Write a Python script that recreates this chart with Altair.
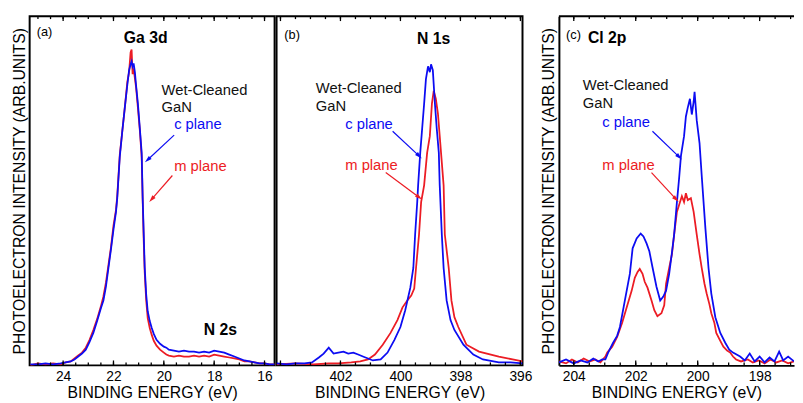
import altair as alt
import pandas as pd

FONT = "Liberation Sans"
BLUE = "#0c0cf2"
RED = "#ec1c24"

# ---------------- (a) Ga 3d ----------------
ga_E = [25.3, 25.0, 24.7, 24.4, 24.1, 23.9, 23.7, 23.55, 23.4, 23.25,
        23.1, 22.95, 22.8, 22.65, 22.5, 22.4, 22.3, 22.2, 22.1, 22.0,
        21.9, 21.85, 21.75, 21.65, 21.55, 21.45, 21.38, 21.32, 21.28, 21.24,
        21.2, 21.15, 21.1, 21.03, 20.95, 20.88, 20.84, 20.8, 20.76, 20.7,
        20.64, 20.56, 20.48, 20.4, 20.29, 20.15, 20.0, 19.9, 19.8, 19.6,
        19.4, 19.2, 19.0, 18.8, 18.6, 18.4, 18.2, 18.0, 17.8, 17.6,
        17.4, 17.2, 17.0, 16.8, 16.6, 16.4, 16.2, 16.0, 15.8, 15.6]
ga_c = [1, 1, 2, 1, 2, 3, 4, 6, 9, 12,
        16, 24, 33, 45, 58, 66, 80, 99, 118, 138,
        156, 170, 212, 238, 262, 285, 300, 306, 309, 304,
        307, 298, 284, 266, 240, 216, 170, 135, 100, 72,
        55, 45, 38, 32, 26, 22, 19, 18, 16, 15,
        14, 15, 14, 14, 13, 14, 13, 15, 14, 13,
        11, 9, 7, 5, 4, 3, 2, 2, 1, 1]
ga_m = [0, 2, 1, 2, 1, 3, 4, 7, 10, 13,
        18, 26, 36, 47, 60, 70, 84, 102, 120, 142,
        158, 172, 214, 238, 262, 288, 298, 318, 321, 296,
        302, 292, 282, 262, 238, 212, 168, 128, 95, 66,
        48, 38, 31, 25, 20, 16, 13, 11, 10, 9,
        10, 9, 9, 10, 9, 10, 9, 11, 10, 9,
        8, 7, 6, 4, 4, 3, 2, 2, 1, 1]

# ---------------- (b) N 1s ----------------
n_c_E = [404.13, 403.8, 403.5, 403.2, 402.95, 402.72, 402.56, 402.39, 402.23, 402.07,
         401.9, 401.74, 401.57, 401.41, 401.25, 401.08, 400.92, 400.66, 400.43, 400.2,
         400.0, 399.84, 399.67, 399.57, 399.51, 399.44, 399.41, 399.34, 399.21, 399.15,
         399.08, 399.02, 398.98, 398.92, 398.85, 398.79, 398.72, 398.69, 398.62, 398.56,
         398.46, 398.33, 398.2, 397.9, 397.57, 397.25, 396.72, 396.33, 395.93]
n_c = [2, 1, 2, 2, 3, 8, 12, 18, 12, 13,
       14, 12, 13, 11, 9, 7, 5, 6, 13, 26,
       39, 56, 79, 99, 133, 166, 183, 216, 266, 291,
       304, 298, 306, 300, 266, 241, 216, 183, 133, 99,
       66, 46, 36, 21, 11, 6, 3, 3, 2]
n_m_E = [404.13, 403.5, 402.9, 402.4, 402.07, 401.64, 401.34, 401.08, 400.85, 400.59,
         400.33, 400.1, 399.93, 399.77, 399.64, 399.54, 399.48, 399.38, 399.31, 399.21,
         399.11, 399.02, 398.95, 398.89, 398.82, 398.75, 398.69, 398.56, 398.52, 398.39,
         398.3, 398.2, 398.07, 397.8, 397.38, 396.72, 396.26, 395.93]
n_m = [1, 2, 1, 2, 2, 3, 4, 6, 11, 21,
       33, 46, 59, 66, 71, 78, 99, 133, 166, 183,
       216, 233, 266, 279, 271, 256, 233, 183, 133, 99,
       66, 49, 39, 21, 14, 9, 6, 4]

# ---------------- (c) Cl 2p ----------------
cl_c_E = [204.48, 204.25, 204.0, 203.78, 203.56, 203.37, 203.21, 203.08, 202.98, 202.89,
          202.73, 202.6, 202.51, 202.35, 202.19, 202.1, 201.97, 201.84, 201.75, 201.65,
          201.56, 201.46, 201.33, 201.21, 201.11, 201.02, 200.92, 200.83, 200.76, 200.67,
          200.6, 200.54, 200.44, 200.38, 200.32, 200.25, 200.19, 200.13, 200.1, 200.03,
          199.94, 199.87, 199.81, 199.75, 199.65, 199.56, 199.43, 199.27, 199.11, 198.98,
          198.86, 198.63, 198.48, 198.32, 198.16, 198.0, 197.84, 197.68, 197.52, 197.37,
          197.24, 197.08, 196.89]
cl_c = [3, 6, 2, 5, 3, 7, 4, 6, 6, 13,
        23, 30, 39, 66, 93, 119, 129, 134, 131, 124,
        116, 100, 80, 66, 70, 76, 93, 115, 133, 166,
        190, 213, 233, 253, 262, 271, 255, 268, 278, 249,
        226, 193, 166, 139, 99, 73, 49, 33, 23, 16,
        13, 9, 5, 12, 4, 9, 3, 8, 4, 14,
        5, 9, 4]
cl_m_E = [204.48, 204.25, 204.06, 203.87, 203.68, 203.49, 203.3, 203.14, 202.98, 202.92,
          202.76, 202.6, 202.44, 202.29, 202.13, 202.03, 201.94, 201.87, 201.78, 201.71,
          201.62, 201.49, 201.4, 201.3, 201.17, 201.08, 201.02, 200.92, 200.83, 200.76,
          200.67, 200.57, 200.51, 200.44, 200.38, 200.32, 200.22, 200.13, 200.03, 199.94,
          199.87, 199.78, 199.71, 199.62, 199.56, 199.46, 199.4, 199.27, 199.17, 199.05,
          198.95, 198.86, 198.76, 198.6, 198.38, 198.22, 198.03, 197.84, 197.65, 197.46,
          197.27, 197.08, 196.89]
cl_m = [4, 2, 6, 3, 7, 4, 6, 3, 9, 13,
        19, 29, 43, 59, 76, 89, 95, 98, 93, 85,
        79, 66, 56, 50, 53, 61, 83, 99, 113, 133,
        156, 166, 172, 166, 175, 168, 170, 156, 133, 113,
        99, 83, 73, 62, 53, 43, 33, 25, 19, 15,
        13, 9, 6, 4, 6, 3, 5, 2, 6, 3,
        5, 2, 4]

# axis ranges and tick values
a_dom = [15.6, 25.33]
b_dom = [395.93, 404.13]
c_dom = [196.89, 204.48]
a_labels = [16, 18, 20, 22, 24]
b_labels = [396, 398, 400, 402]
c_labels = [198, 200, 202, 204]
a_major = [16, 18, 20, 22, 24]
b_major = [396, 398, 400, 402, 404]
c_major = [198, 200, 202, 204]
a_minor = [16 + 0.5 * i for i in range(19)]
b_minor = [396 + 0.5 * i for i in range(17)]
c_minor = [197 + 0.5 * i for i in range(15)]

# annotations: text, energy, intensity
a_tag = ["(a)", 25.05, 339]
b_tag = ["(b)", 403.87, 336]
c_tag = ["(c)", 204.25, 336]
a_bold = [["Ga 3d", 20.72, 333], ["N 2s", 17.75, 36]]
b_bold = [["N 1s", 398.89, 332]]
c_bold = [["Cl 2p", 202.92, 333]]
a_desc = [["Wet-Cleaned", 20.09, 280], ["GaN", 20.09, 263]]
b_desc = [["Wet-Cleaned", 402.82, 282], ["GaN", 402.82, 264]]
c_desc = [["Wet-Cleaned", 203.71, 285], ["GaN", 203.71, 267]]
a_planes = [["c plane", 19.59, 245, BLUE], ["m plane", 19.59, 203, RED]]
b_planes = [["c plane", 401.84, 245, BLUE], ["m plane", 401.84, 204, RED]]
c_planes = [["c plane", 203.08, 247, BLUE], ["m plane", 203.08, 204, RED]]
# arrows: start E, start I, tip E, tip I, colour, head angle
a_arrows = [[19.59, 234, 20.64, 209, BLUE, 227], [19.66, 193, 20.48, 169, RED, 221]]
b_arrows = [[400.26, 238, 399.38, 213, BLUE, 133], [400.49, 196, 399.38, 171, RED, 126]]
c_arrows = [[201.46, 238, 200.6, 212, BLUE, 134], [201.49, 196, 200.7, 169, RED, 133]]

YTITLE = "PHOTOELECTRON INTENSITY (ARB.UNITS)"
YDOM = [0, 355]
H = 355
ARROW_HEAD = "M0,-1L0.55,0.9L-0.55,0.9Z"


def panel(E_m, I_m, E_c, I_c, dom, labels, major, minor, width, ytitle, border,
          tag, bold, desc, planes, arrows):
    xs = alt.Scale(domain=dom, reverse=True, nice=False, zero=False)
    ys = alt.Scale(domain=YDOM, nice=False, zero=False)
    lab_axis = alt.Axis(orient="bottom", values=labels, format="d", ticks=False,
                        domain=border, domainColor="black", domainWidth=2, grid=False,
                        labelFontSize=14, labelPadding=4, labelFlush=False, labelOverlap=False,
                        title="BINDING ENERGY (eV)", titleFontSize=16, titlePadding=2)
    if ytitle:
        yaxis = alt.Axis(title=YTITLE, labels=False, ticks=False, domain=border,
                         domainColor="black", domainWidth=2, grid=False,
                         titleFontSize=16, titlePadding=2)
        yk = {}
    else:
        yaxis = None
        yk = {"axis": None}

    def X(field):
        return alt.X(field, scale=xs)

    def Y(field):
        return alt.Y(field, scale=ys, **yk)

    df_m = pd.DataFrame({"E": E_m, "I": I_m})
    df_c = pd.DataFrame({"E": E_c, "I": I_c})
    red = alt.Chart(df_m).mark_line(color=RED, strokeWidth=1.8, clip=True).encode(
        x=alt.X("E:Q", scale=xs, axis=lab_axis),
        y=alt.Y("I:Q", scale=ys, axis=yaxis))
    blue = alt.Chart(df_c).mark_line(color=BLUE, strokeWidth=1.8, clip=True).encode(
        x=X("E:Q"), y=Y("I:Q"))

    tick_layers = []
    for vals, ln in ((major, 5), (minor, 3)):
        tdf = pd.DataFrame({"E": vals})
        for y0, y1 in ((H, H - ln), (0, ln)):
            tick_layers.append(
                alt.Chart(tdf).mark_rule(color="black", strokeWidth=1.3).encode(
                    x=X("E:Q"), y=alt.value(y0), y2=alt.value(y1)))

    df_tag = pd.DataFrame({"t": [tag[0]], "E": [tag[1]], "I": [tag[2]]})
    tag_l = alt.Chart(df_tag).mark_text(align="left", baseline="middle", font=FONT,
                                        fontSize=13, color="black").encode(
        x=X("E:Q"), y=Y("I:Q"), text="t:N")

    df_bold = pd.DataFrame(bold, columns=["t", "E", "I"])
    bold_l = alt.Chart(df_bold).mark_text(align="center", baseline="middle", font=FONT,
                                          fontSize=16, fontWeight="bold", color="black").encode(
        x=X("E:Q"), y=Y("I:Q"), text="t:N")

    df_desc = pd.DataFrame(desc, columns=["t", "E", "I"])
    desc_l = alt.Chart(df_desc).mark_text(align="left", baseline="middle", font=FONT,
                                          fontSize=15, color="#111111").encode(
        x=X("E:Q"), y=Y("I:Q"), text="t:N")

    df_pl = pd.DataFrame(planes, columns=["t", "E", "I", "col"])
    pl_l = alt.Chart(df_pl).mark_text(align="left", baseline="middle", font=FONT,
                                      fontSize=15).encode(
        x=X("E:Q"), y=Y("I:Q"), text="t:N",
        color=alt.Color("col:N", scale=None))

    df_ar = pd.DataFrame(arrows, columns=["E", "I", "E1", "I1", "col", "ang"])
    shafts = alt.Chart(df_ar).mark_rule(strokeWidth=1.2).encode(
        x=X("E:Q"), x2="E1:Q", y=Y("I:Q"), y2="I1:Q",
        color=alt.Color("col:N", scale=None))
    df_hd = pd.DataFrame({"E": [r[2] for r in arrows], "I": [r[3] for r in arrows],
                          "col": [r[4] for r in arrows], "ang": [r[5] for r in arrows]})
    heads = alt.Chart(df_hd).mark_point(shape=ARROW_HEAD, filled=True, size=60,
                                        opacity=1, strokeWidth=0).encode(
        x=X("E:Q"), y=Y("I:Q"),
        angle=alt.Angle("ang:Q", scale=None),
        fill=alt.Fill("col:N", scale=None))

    layers = [red, blue] + tick_layers + [tag_l, bold_l, desc_l, pl_l, shafts, heads]
    if border:
        top_line = alt.Chart(pd.DataFrame({"E": [dom[0]]})).mark_rule(
            color="black", strokeWidth=2).encode(
            x=alt.value(0), x2=alt.value(width), y=alt.value(0))
        layers.append(top_line)
    layer = alt.layer(*layers).properties(width=width, height=H)
    if border:
        layer = layer.properties(view=alt.ViewBackground(stroke=None))
    return layer


pa = panel(ga_E, ga_m, ga_E, ga_c, a_dom, a_labels, a_major, a_minor, 249, True, False,
           a_tag, a_bold, a_desc, a_planes, a_arrows)
pb = panel(n_m_E, n_m, n_c_E, n_c, b_dom, b_labels, b_major, b_minor, 250, False, False,
           b_tag, b_bold, b_desc, b_planes, b_arrows)
pc = panel(cl_m_E, cl_m, cl_c_E, cl_c, c_dom, c_labels, c_major, c_minor, 239, True, True,
           c_tag, c_bold, c_desc, c_planes, c_arrows)

chart = alt.hconcat(
    alt.hconcat(pa, pb, spacing=0),
    pc, spacing=8
).properties(
    padding={"left": 3, "top": 3, "right": 0, "bottom": 0}
).configure_view(
    stroke="black", strokeWidth=2
).configure_axis(
    labelFont=FONT, titleFont=FONT, labelColor="black", titleColor="black",
    titleFontWeight="normal"
)

chart.save("out.html", embed_options={"renderer": "svg", "actions": False})
